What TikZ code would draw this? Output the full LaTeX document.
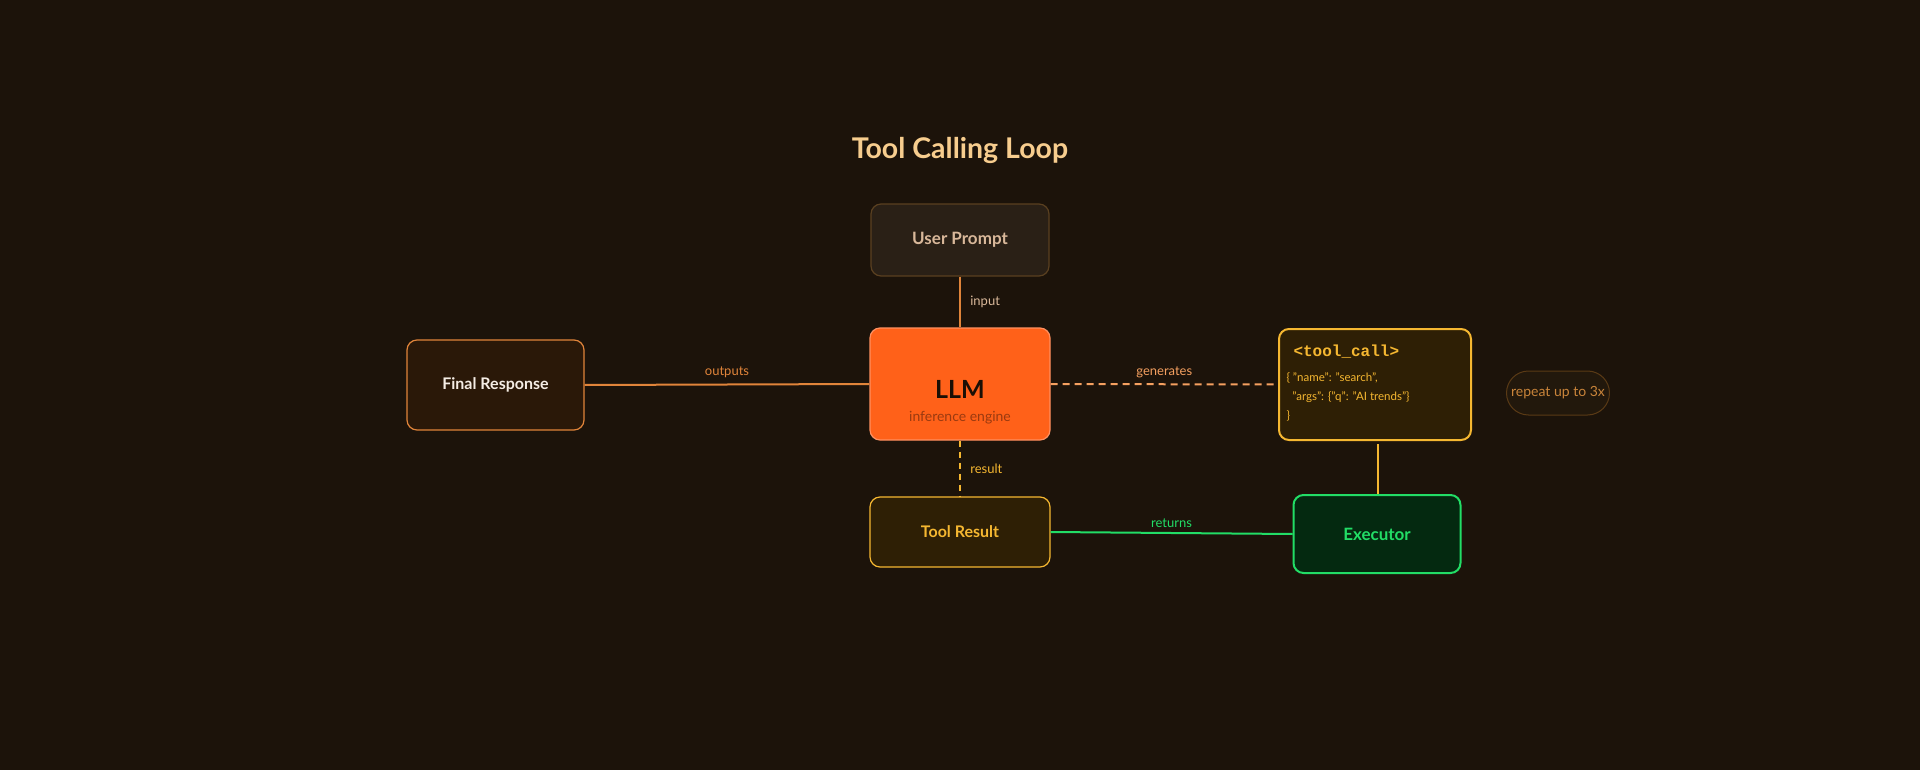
\documentclass[tikz,border=0pt]{standalone}
\usepackage{fontspec}
\setmainfont{Lato}
\newfontfamily\monof{Liberation Mono}
\newcommand\qq{\symbol{34}}
\definecolor{bg}{HTML}{1C130A}
\definecolor{org}{HTML}{E0843A}
\definecolor{yel}{HTML}{F5B731}
\definecolor{grn}{HTML}{22DD66}
\definecolor{upd}{HTML}{5A4020}
\definecolor{upf}{HTML}{2A2016}
\definecolor{upt}{HTML}{D9B89A}
\definecolor{llmd}{HTML}{FF9060}
\definecolor{llmf}{HTML}{FF6119}
\definecolor{llmt}{HTML}{1A0F05}
\definecolor{llms}{HTML}{9A3A10}
\definecolor{frf}{HTML}{2A1808}
\definecolor{frt}{HTML}{F5EDE5}
\definecolor{tcf}{HTML}{2E1F05}
\definecolor{repd}{HTML}{5A3A15}
\definecolor{repf}{HTML}{22180C}
\definecolor{rept}{HTML}{C9843A}
\definecolor{exf}{HTML}{042910}
\definecolor{gen}{HTML}{F5A060}
\definecolor{ttl}{HTML}{F7CD8E}
\begin{document}
\begin{tikzpicture}[x=1pt,y=-1pt,
  box/.style={draw,rounded corners=10pt,line width=1.2pt,inner sep=0pt},
  lbl/.style={font=\fontsize{13}{15}\selectfont},
  ln/.style={line width=2pt}]
\fill[bg] (0,0) rectangle (1920,770);
\useasboundingbox (0,0) rectangle (1920,770);
\node[text=ttl,font=\fontsize{28.5}{32}\selectfont\bfseries] (title) at (960,150) {Tool Calling Loop};
\node[box,draw=upd,fill=upf,minimum width=178pt,minimum height=72pt,text=upt,font=\fontsize{17}{20}\selectfont\bfseries] (up) at (960,240) {User Prompt};
\node[box,draw=llmd,fill=llmf,minimum width=180pt,minimum height=112pt] (llm) at (960,384) {};
\node[text=llmt,font=\fontsize{25}{28}\selectfont\bfseries] (llmtx) at (960,389) {LLM};
\node[text=llms,font=\fontsize{14}{16}\selectfont] (llmsx) at (960,418) {inference engine};
\node[box,draw=org,fill=frf,minimum width=177pt,minimum height=90pt,text=frt,font=\fontsize{16}{19}\selectfont\bfseries] (fr) at (495.5,385) {Final Response};
\node[box,draw=yel,line width=2pt,fill=tcf,minimum width=192pt,minimum height=111pt] (tc) at (1375,384.5) {};
\node[anchor=west,text=yel,font=\monof\fontsize{16}{19}\selectfont\bfseries] (tct) at (1290,352) {<tool\_call>};
\node[anchor=north west,text=yel,align=left,font=\fontsize{11.5}{19}\selectfont] (tcj) at (1283,369) {\{ \qq name\qq: \qq search\qq,\\ \ \ \qq args\qq: \{\qq q\qq: \qq AI trends\qq\}\\ \}};
\node[draw=repd,fill=repf,rounded corners=22pt,minimum width=103pt,minimum height=44pt,line width=1pt,text=rept,font=\fontsize{14}{16}\selectfont] (rep) at (1558,393) {repeat up to 3x};
\node[box,draw=yel,fill=tcf,minimum width=180pt,minimum height=70pt,text=yel,font=\fontsize{16}{19}\selectfont\bfseries] (tr) at (960,532) {Tool Result};
\node[box,draw=grn,line width=2pt,fill=exf,minimum width=167pt,minimum height=78pt,text=grn,font=\fontsize{17}{20}\selectfont\bfseries] (ex) at (1377,534) {Executor};
\draw[ln,org] (up) -- node[right,lbl,text=upt,xshift=6pt]{input} (llm);
\draw[ln,org] (fr.east) -- node[above,lbl,text=org,yshift=2pt]{outputs} (llm.west);
\draw[ln,gen,dash pattern=on 7pt off 5pt] (llm.east) -- node[above,lbl,text=gen,yshift=2pt]{generates} (tc.west);
\draw[ln,yel,dash pattern=on 6pt off 5pt] (llm.south) -- node[right,lbl,text=yel,xshift=6pt]{result} (tr.north);
\draw[ln,grn] (tr.east) -- node[above,lbl,text=grn,yshift=1pt]{returns} (ex.west);
\coordinate (tcb) at (1378,444);
\draw[ln,yel] (tcb) -- (ex.north-|tcb);
\end{tikzpicture}
\end{document}
